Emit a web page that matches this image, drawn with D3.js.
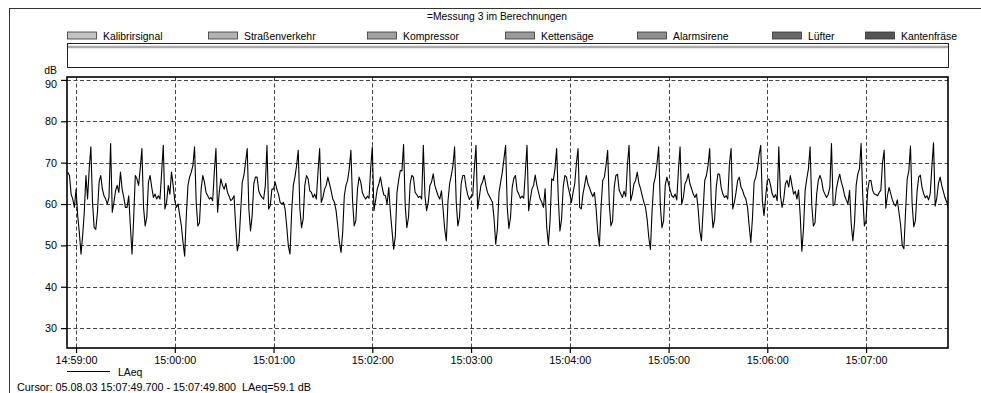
<!DOCTYPE html>
<html>
<head>
<meta charset="utf-8">
<script src="https://cdn.jsdelivr.net/npm/d3@7"></script>
<style>
  body { margin: 0; background: #fff; }
  svg { display: block; font-family: "Liberation Sans", Arial, sans-serif; }
</style>
</head>
<body>
<div id="chart"></div>
<script>
// chart data
const title = "=Messung 3 im Berechnungen";
const sources = ["Kalibrirsignal", "Straßenverkehr", "Kompressor", "Kettensäge",
                 "Alarmsirene", "Lüfter", "Kantenfräse"];
const sourceColors = ["#c4c4c4", "#b2b2b2", "#a2a2a2", "#9a9a9a", "#8e8e8e", "#686868", "#545454"];
const yTicks = [30, 40, 50, 60, 70, 80, 90];
const xTicks = ["14:59:00", "15:00:00", "15:01:00", "15:02:00", "15:03:00",
                "15:04:00", "15:05:00", "15:06:00", "15:07:00"];
const seriesName = "LAeq";
const startTime = "14:58:55";   // first sample, one sample per second
const stepSeconds = 1;
const laeq = [
  67.7, 66.9, 62.4, 61.2, 59.2, 63.6, 57.2, 53.1, 47.9, 52.3,
  58.0, 66.9, 61.2, 68.5, 73.8, 60.4, 54.3, 53.9, 58.0, 65.3,
  66.9, 63.6, 62.0, 61.2, 60.0, 61.6, 74.6, 58.0, 60.4, 63.2,
  64.5, 62.8, 67.7, 63.6, 61.6, 59.2, 59.2, 62.0, 54.7, 47.9,
  56.4, 66.9, 66.1, 64.5, 68.5, 73.4, 59.2, 54.7, 56.8, 65.3,
  66.9, 64.0, 61.6, 62.4, 61.2, 62.0, 61.2, 67.7, 74.2, 58.8,
  60.4, 64.5, 62.4, 67.7, 64.5, 60.8, 59.2, 60.0, 57.2, 54.7,
  50.7, 47.4, 57.2, 64.5, 66.5, 67.7, 69.3, 73.8, 60.4, 54.7,
  55.5, 63.6, 66.9, 65.3, 62.8, 62.0, 61.2, 61.6, 60.8, 67.7,
  73.4, 58.0, 62.8, 66.1, 64.5, 63.6, 65.0, 62.8, 61.9, 60.8,
  61.2, 62.0, 54.7, 48.7, 50.7, 58.0, 65.3, 66.9, 70.1, 73.4,
  58.8, 53.5, 57.2, 64.9, 66.5, 66.5, 63.2, 62.2, 61.6, 61.2,
  64.5, 74.2, 58.8, 59.6, 63.6, 63.6, 65.3, 63.6, 62.4, 60.4,
  60.0, 60.4, 58.8, 54.7, 49.8, 47.9, 58.0, 64.5, 66.5, 69.3,
  73.0, 58.8, 54.3, 56.4, 64.5, 66.9, 66.1, 63.2, 62.8, 61.6,
  62.4, 61.2, 67.7, 73.4, 60.4, 61.6, 63.6, 64.5, 66.5, 64.9,
  63.2, 61.2, 60.4, 58.4, 54.7, 50.7, 48.3, 53.1, 62.0, 64.5,
  65.7, 68.5, 73.0, 60.8, 54.7, 56.0, 63.6, 66.5, 65.3, 62.7,
  61.8, 61.2, 61.9, 61.4, 68.5, 73.8, 58.4, 60.8, 63.6, 64.9,
  66.5, 64.0, 62.2, 62.0, 60.0, 64.0, 58.0, 53.5, 49.1, 52.3,
  62.8, 65.7, 68.1, 68.0, 74.4, 59.6, 54.3, 56.8, 64.9, 66.9,
  66.5, 62.8, 62.3, 61.6, 61.9, 61.2, 74.2, 62.0, 58.4, 60.4,
  64.5, 65.3, 67.3, 64.5, 63.2, 62.0, 61.2, 63.2, 58.8, 53.9,
  51.1, 60.8, 64.9, 66.9, 69.3, 73.8, 60.4, 54.7, 56.8, 64.9,
  66.9, 66.9, 64.0, 62.2, 61.1, 61.9, 62.0, 68.5, 74.2, 58.8,
  61.6, 64.5, 65.3, 66.9, 64.5, 62.8, 62.0, 61.2, 60.4, 56.4,
  50.3, 53.9, 62.8, 65.3, 67.7, 70.9, 74.2, 59.2, 54.1, 56.8,
  64.0, 66.2, 66.9, 63.2, 62.4, 61.4, 61.9, 61.4, 67.7, 74.2,
  58.4, 61.2, 63.6, 64.5, 67.0, 64.5, 62.8, 61.2, 60.4, 59.2,
  63.7, 54.3, 50.2, 55.9, 66.1, 65.7, 68.5, 73.4, 61.6, 53.5,
  56.3, 64.1, 66.9, 66.5, 64.1, 62.4, 60.4, 62.8, 64.9, 69.8,
  73.4, 59.2, 58.8, 62.4, 64.5, 66.9, 64.9, 63.9, 62.7, 61.8,
  62.8, 58.8, 53.1, 49.8, 59.2, 65.7, 66.5, 69.3, 73.0, 60.0,
  54.7, 55.9, 64.1, 66.9, 67.2, 63.4, 62.4, 61.6, 63.1, 61.8,
  69.3, 74.2, 60.8, 62.4, 64.9, 65.7, 67.7, 65.0, 63.7, 62.0,
  60.4, 59.2, 56.3, 51.9, 49.0, 58.4, 64.9, 66.5, 69.8, 73.8,
  59.6, 54.3, 55.9, 64.5, 66.5, 64.9, 63.3, 62.0, 61.6, 62.4,
  61.0, 68.1, 73.8, 60.0, 61.6, 64.9, 65.7, 67.3, 64.9, 63.7,
  62.4, 61.6, 62.4, 58.8, 53.5, 51.1, 58.4, 65.7, 66.9, 69.3,
  73.4, 60.0, 54.3, 56.3, 64.1, 67.3, 67.2, 63.9, 62.4, 61.6,
  62.0, 61.2, 69.8, 73.4, 58.8, 60.4, 62.8, 65.7, 66.5, 64.1,
  63.3, 62.0, 61.2, 59.2, 54.7, 50.7, 56.7, 65.3, 66.5, 68.5,
  71.8, 74.2, 60.8, 57.2, 61.6, 65.7, 66.1, 64.5, 62.4, 61.6,
  62.3, 60.8, 73.8, 62.0, 59.2, 61.2, 64.9, 65.7, 64.1, 66.9,
  64.5, 62.4, 63.1, 61.2, 63.4, 57.2, 48.6, 54.0, 63.3, 66.1,
  68.5, 73.8, 60.0, 54.7, 55.5, 62.4, 65.7, 66.9, 65.7, 63.3,
  62.4, 61.6, 62.3, 64.0, 74.6, 59.6, 60.0, 63.7, 65.7, 67.2,
  65.3, 63.9, 62.0, 61.0, 60.0, 63.3, 55.1, 51.1, 55.5, 64.5,
  67.3, 68.5, 74.6, 62.0, 54.7, 55.9, 63.3, 65.7, 65.7, 63.3,
  62.4, 62.3, 62.0, 62.8, 63.3, 70.0, 73.0, 59.0, 62.0, 64.0,
  62.5, 61.0, 60.0, 59.5, 61.0, 58.0, 55.0, 50.0, 49.2, 58.0,
  66.0, 68.0, 74.0, 60.0, 54.5, 56.0, 63.0, 66.5, 67.0, 64.0,
  62.5, 61.5, 62.0, 61.0, 62.5, 69.0, 74.8, 59.5, 61.5, 65.0,
  66.5, 64.5, 63.0, 61.5, 60.5, 59.1
];
const cursorText = "Cursor: 05.08.03 15:07:49.700 - 15:07:49.800  LAeq=59.1 dB";

// layout
const width = 981;
const height = 393;
const plot = { left: 67, right: 948, top: 77, bottom: 348 };
const legendX = [67, 208, 367, 505, 637, 772, 865];

const parseTime = d3.timeParse("%H:%M:%S");
const t0 = parseTime(startTime);
const points = laeq.map((v, i) => ({ time: d3.timeSecond.offset(t0, i * stepSeconds), value: v }));

const svg = d3.select("#chart")
  .append("svg")
    .attr("width", width)
    .attr("height", height);

// outer frame (cut off at right and bottom like the screen shot)
svg.append("rect")
    .attr("x", 9.5)
    .attr("y", 8.5)
    .attr("width", 1000)
    .attr("height", 400)
    .style("fill", "none")
    .style("stroke", "#333");

svg.append("text")
    .attr("x", 497)
    .attr("y", 20)
    .attr("text-anchor", "middle")
    .style("font-size", "10.3px")
    .text(title);

// source legend
const legend = svg.append("g")
  .selectAll("g")
  .data(sources)
  .enter()
  .append("g")
    .attr("transform", (d, i) => `translate(${legendX[i]},0)`);

legend.append("rect")
    .attr("x", 0.5)
    .attr("y", 32)
    .attr("width", 29)
    .attr("height", 7)
    .style("fill", (d, i) => sourceColors[i])
    .style("stroke", "#333")
    .style("stroke-width", 0.8);

legend.append("text")
    .attr("x", 36)
    .attr("y", 39.5)
    .style("font-size", "10.4px")
    .text((d) => d);

// empty event box
svg.append("rect")
    .attr("x", plot.left + 0.5)
    .attr("y", 43.5)
    .attr("width", plot.right - plot.left)
    .attr("height", 24)
    .style("fill", "#fff")
    .style("stroke", "#222");
svg.append("line")
    .attr("x1", plot.left + 1)
    .attr("x2", plot.right)
    .attr("y1", 47)
    .attr("y2", 47)
    .style("stroke", "#aaa")
    .style("stroke-width", 2.5);

// scales
const x = d3.scaleTime()
    .domain([d3.timeMillisecond.offset(parseTime("14:58:54"), 500),
             d3.timeMillisecond.offset(parseTime("15:07:49"), 800)])
    .range([plot.left, plot.right]);

const y = d3.scaleLinear()
    .domain([25.2, 90.7])
    .range([plot.bottom, plot.top]);

const xTickDates = xTicks.map(parseTime);

// grid
const grid = svg.append("g")
    .style("stroke", "#444")
    .style("stroke-dasharray", "4,2.5");

grid.selectAll(".hgrid")
  .data(yTicks)
  .enter()
  .append("line")
    .attr("x1", plot.left)
    .attr("x2", plot.right)
    .attr("y1", (d) => Math.round(y(d)) + 0.5)
    .attr("y2", (d) => Math.round(y(d)) + 0.5);

grid.selectAll(".vgrid")
  .data(xTickDates)
  .enter()
  .append("line")
    .attr("x1", (d) => Math.round(x(d)) + 0.5)
    .attr("x2", (d) => Math.round(x(d)) + 0.5)
    .attr("y1", plot.top)
    .attr("y2", plot.bottom);

// data line
svg.append("clipPath")
    .attr("id", "clip")
  .append("rect")
    .attr("x", plot.left)
    .attr("y", plot.top)
    .attr("width", plot.right - plot.left)
    .attr("height", plot.bottom - plot.top);

const line = d3.line()
    .x((d) => x(d.time))
    .y((d) => y(d.value));

svg.append("path")
    .datum(points)
    .attr("clip-path", "url(#clip)")
    .attr("d", line)
    .style("fill", "none")
    .style("stroke", "#000")
    .style("stroke-width", 1.1)
    .style("stroke-linejoin", "round");

// plot frame
svg.append("rect")
    .attr("x", plot.left)
    .attr("y", plot.top)
    .attr("width", plot.right - plot.left)
    .attr("height", plot.bottom - plot.top)
    .style("fill", "none")
    .style("stroke", "#000")
    .style("stroke-width", 1.6);

// axes
const yAxis = svg.append("g")
    .attr("transform", `translate(${plot.left},0)`)
    .call(d3.axisLeft(y).tickValues(yTicks).tickSize(6).tickPadding(4));

const xAxis = svg.append("g")
    .attr("transform", `translate(0,${plot.bottom})`)
    .call(d3.axisBottom(x).tickValues(xTickDates).tickSize(5).tickPadding(3)
      .tickFormat(d3.timeFormat("%H:%M:%S")));

[yAxis, xAxis].forEach((g) => {
  g.select(".domain").remove();
  g.selectAll(".tick line").style("stroke", "#000").style("stroke-width", 1.2);
  g.selectAll(".tick text")
    .style("font-family", "'Liberation Sans', Arial, sans-serif")
    .style("font-size", "10.8px")
    .style("fill", "#000");
});

// top label sits a little lower, under the unit
yAxis.selectAll(".tick text")
    .filter((d) => d === 90)
    .attr("dy", "0.7em");

svg.append("text")
    .attr("x", 57)
    .attr("y", 74)
    .attr("text-anchor", "end")
    .style("font-size", "10.4px")
    .text("dB");

// series legend
svg.append("line")
    .attr("x1", 67)
    .attr("x2", 110)
    .attr("y1", 371.5)
    .attr("y2", 371.5)
    .style("stroke", "#000");
svg.append("text")
    .attr("x", 118)
    .attr("y", 375.5)
    .style("font-size", "10.4px")
    .text(seriesName);

svg.append("text")
    .attr("x", 17)
    .attr("y", 391)
    .style("font-size", "10.8px")
    .style("white-space", "pre")
    .text(cursorText);
</script>
</body>
</html>
